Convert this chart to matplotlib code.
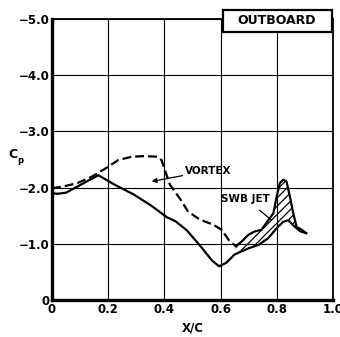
import matplotlib
matplotlib.use("Agg")
import matplotlib.pyplot as plt
from matplotlib.patches import Rectangle
import numpy as np

plt.rcParams['font.family'] = ['Liberation Sans Narrow', 'DejaVu Sans']
plt.rcParams['hatch.linewidth'] = 0.9

# Baseline pressure distribution (solid)
x_base = [0.0, 0.02, 0.05, 0.08, 0.12, 0.165, 0.22, 0.29, 0.35, 0.41, 0.44,
          0.48, 0.53, 0.57, 0.595, 0.62, 0.65, 0.70, 0.735, 0.77, 0.80,
          0.823, 0.841, 0.865, 0.885, 0.905]
cp_base = [-1.90, -1.89, -1.91, -1.99, -2.10, -2.22, -2.06, -1.88, -1.69, -1.47, -1.40,
           -1.24, -0.95, -0.70, -0.60, -0.66, -0.81, -0.92, -0.98, -1.10, -1.28,
           -1.39, -1.42, -1.30, -1.22, -1.19]

# Vortex-induced distribution (dashed)
x_vortex = [0.0, 0.04, 0.09, 0.14, 0.19, 0.236, 0.284, 0.33, 0.374, 0.39, 0.402,
            0.42, 0.456, 0.485, 0.527, 0.574, 0.604, 0.633, 0.655]
cp_vortex = [-1.99, -2.02, -2.08, -2.19, -2.34, -2.49, -2.55, -2.56, -2.55, -2.49, -2.31,
             -2.05, -1.80, -1.57, -1.43, -1.34, -1.25, -1.04, -0.96]

# Upper edge of the SWB jet increment
x_jet = [0.655, 0.675, 0.699, 0.722, 0.746, 0.770, 0.788, 0.80, 0.811, 0.823,
         0.835, 0.847, 0.859, 0.871, 0.889, 0.905]
cp_jet = [-0.96, -1.04, -1.16, -1.22, -1.25, -1.42, -1.54, -1.84, -2.08, -2.14,
          -2.11, -1.84, -1.54, -1.30, -1.25, -1.19]

x_ticks = [0, 0.2, 0.4, 0.6, 0.8, 1.0]
x_ticklabels = ['0', '0.2', '0.4', '0.6', '0.8', '1.0']
y_ticks = [0, -1, -2, -3, -4, -5]
y_ticklabels = ['0', '\u22121.0', '\u22122.0', '\u22123.0', '\u22124.0', '\u22125.0']

fig = plt.figure(figsize=(3.4, 3.37), dpi=100)
ax = fig.add_axes([0.153, 0.1098, 0.826, 0.8338])

ax.set_xlim(0, 1.0)
ax.set_ylim(0, -5)
ax.set_xticks(x_ticks)
ax.set_xticklabels(x_ticklabels)
ax.set_yticks(y_ticks)
ax.set_yticklabels(y_ticklabels)
ax.tick_params(length=0, pad=2, labelsize=8.5)
for lab in ax.get_xticklabels() + ax.get_yticklabels():
    lab.set_fontweight('bold')

ax.grid(True, color='black', linewidth=0.8)
ax.set_axisbelow(True)
for side in ['left', 'bottom']:
    ax.spines[side].set_linewidth(2.4)
for side in ['top', 'right']:
    ax.spines[side].set_linewidth(1.3)

# Hatched jet region between the jet edge and the baseline
xb = np.array(x_base)
cb = np.array(cp_base)
mask = xb >= 0.65
poly_x = np.concatenate([x_jet, xb[mask][::-1]])
poly_y = np.concatenate([cp_jet, cb[mask][::-1]])
ax.fill(poly_x, poly_y, facecolor='none', edgecolor='black', hatch='////',
        linewidth=0, zorder=2)

ax.plot(x_base, cp_base, color='black', lw=1.6, zorder=3)
ax.plot(x_vortex, cp_vortex, color='black', lw=1.6, dashes=(4, 1.8), zorder=3)
ax.plot(x_jet, cp_jet, color='black', lw=1.6, zorder=3)

ax.annotate('VORTEX', xy=(0.355, -2.11), xytext=(0.475, -2.30),
            fontsize=7.5, fontweight='bold', ha='left', va='center',
            arrowprops=dict(arrowstyle='-|>', color='black', lw=0.9,
                            mutation_scale=7, shrinkA=0, shrinkB=0))
ax.annotate('SWB JET', xy=(0.782, -1.42), xytext=(0.69, -1.80),
            fontsize=7.5, fontweight='bold', ha='center', va='center',
            arrowprops=dict(arrowstyle='-', color='black', lw=0.9,
                            shrinkA=4, shrinkB=0))

# Panel label box
ax.add_patch(Rectangle((0.609, -4.77), 0.387, -0.39, facecolor='white',
                       edgecolor='black', lw=1.6, clip_on=False, zorder=5))
ax.text(0.80, -4.965, 'OUTBOARD', fontsize=9, fontweight='bold',
        ha='center', va='center', zorder=6, clip_on=False)

ax.set_xlabel('X/C', fontsize=8.5, fontweight='bold', labelpad=4)
fig.text(13 / 340, 1 - 154 / 337, 'C', fontsize=9, fontweight='bold',
         ha='center', va='center')
fig.text(20 / 340, 1 - 163 / 337, 'P', fontsize=6, fontweight='bold',
         ha='center', va='center')

fig.savefig('out.png', dpi=100)
